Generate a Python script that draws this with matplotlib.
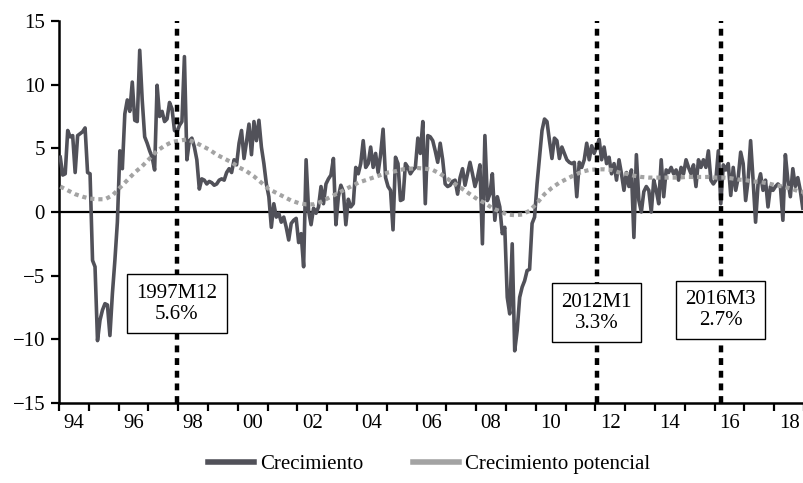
import numpy as np
import matplotlib
matplotlib.use("Agg")
from matplotlib import pyplot as plt
from matplotlib.lines import Line2D

plt.rcParams["font.family"] = ["Liberation Serif", "DejaVu Serif"]

# monthly growth, 1994M1 .. 2018M12
growth = [
    4.3, 2.9, 3.0, 6.4, 5.9, 6.0, 3.1, 6.0, 6.15, 6.3, 6.6, 3.1,
    3.0, -3.8, -4.3, -10.1, -8.5, -7.7, -7.2, -7.3, -9.7, -6.4, -3.8, -0.8,
    4.8, 3.4, 7.7, 8.8, 7.9, 10.2, 7.2, 7.1, 12.7, 8.8, 5.9, 5.4,
    4.8, 4.3, 3.3, 9.95, 7.5, 7.9, 7.1, 7.3, 8.6, 8.1, 6.4, 6.3,
    6.8, 7.1, 12.2, 4.1, 5.6, 5.8, 5.1, 4.1, 1.8, 2.6, 2.5, 2.2,
    2.4, 2.3, 2.1, 2.2, 2.5, 2.6, 2.5, 3.1, 3.4, 3.1, 4.1, 3.7,
    5.4, 6.4, 4.2, 5.5, 6.9, 4.5, 7.1, 5.6, 7.2, 5.1, 3.8, 2.2,
    1.2, -1.2, 0.65, -0.4, -0.1, -0.8, -0.4, -1.2, -2.2, -0.9, -0.65, -0.5,
    -2.4, -1.7, -4.3, 4.1, 0.1, -1.0, 0.3, -0.1, 0.4, 2.0, 0.65, 2.2,
    2.6, 2.9, 4.2, -1.0, 1.2, 2.1, 1.6, -1.0, 1.0, 0.4, 0.65, 3.5,
    3.0, 3.8, 5.6, 3.5, 3.8, 5.1, 3.5, 4.6, 3.1, 4.5, 6.5, 2.7,
    2.0, 1.7, -1.4, 4.3, 3.8, 0.9, 1.0, 3.8, 3.5, 3.0, 3.3, 3.5,
    5.8, 4.6, 7.1, 0.65, 6.0, 5.9, 5.6, 4.8, 3.9, 5.4, 4.1, 2.2,
    2.0, 2.1, 2.4, 2.5, 1.4, 2.7, 3.4, 2.1, 3.0, 3.9, 3.0, 2.0,
    2.7, 3.7, -2.5, 6.0, 0.9, 1.4, 3.0, -0.65, 1.2, 0.4, -1.7, -1.2,
    -6.7, -8.0, -2.5, -10.9, -9.3, -6.7, -5.9, -5.4, -4.6, -4.5, -0.9, -0.4,
    2.2, 4.3, 6.4, 7.3, 7.1, 5.6, 4.2, 5.8, 5.6, 4.2, 5.1, 4.6,
    4.1, 3.9, 3.8, 3.9, 1.2, 3.9, 3.5, 4.1, 5.4, 4.1, 5.2, 4.6,
    5.1, 5.7, 4.1, 5.1, 3.8, 4.3, 3.0, 3.8, 2.5, 4.1, 3.0, 1.7,
    3.1, 2.0, 3.3, -2.0, 4.5, 0.9, 0.0, 1.6, 2.0, 1.7, 0.0, 2.5,
    1.7, 0.65, 4.1, 1.2, 3.3, 3.1, 3.5, 3.0, 3.3, 2.5, 3.5, 3.0,
    4.1, 3.5, 3.0, 3.7, 2.0, 4.1, 3.5, 4.1, 3.5, 4.8, 2.5, 2.2,
    2.5, 4.8, 0.65, 3.7, 3.3, 3.8, 1.3, 3.5, 1.7, 2.7, 4.7, 3.8,
    0.9, 2.5, 5.6, 2.5, -0.8, 2.2, 3.0, 1.7, 2.5, 0.4, 2.0, 1.7,
    2.0, 2.2, 2.0, -0.65, 4.5, 2.5, 1.2, 3.4, 2.0, 2.7, 1.7, 0.3,
]

# potential growth, quarterly from 1994Q1
potential = [
    2.0, 1.7, 1.4, 1.2, 1.05, 1.0, 1.0, 1.3, 1.9, 2.5, 3.1, 3.6,
    4.2, 4.8, 5.2, 5.5, 5.6, 5.7, 5.5, 5.2, 4.9, 4.5, 4.2, 3.9,
    3.5, 3.2, 2.8, 2.3, 1.8, 1.5, 1.2, 0.9, 0.7, 0.6, 0.6, 0.8,
    1.1, 1.4, 1.7, 2.0, 2.3, 2.5, 2.7, 2.9, 3.1, 3.2, 3.35, 3.4,
    3.45, 3.4, 3.3, 3.0, 2.6, 2.2, 1.8, 1.4, 1.0, 0.7, 0.3, 0.05,
    -0.2, -0.25, -0.2, 0.1, 0.7, 1.4, 1.9, 2.3, 2.6, 2.9, 3.15, 3.3,
    3.35, 3.35, 3.3, 3.1, 3.0, 2.85, 2.75, 2.7, 2.7, 2.7, 2.7, 2.7,
    2.75, 2.75, 2.75, 2.75, 2.7, 2.7, 2.65, 2.55, 2.5, 2.4, 2.35, 2.25,
    2.1, 2.0, 1.85, 1.65, 1.55,
]

events = ["1997M12", "2012M1", "2016M3"]
event_vals = [5.6, 3.3, 2.7]
year_labels = ["94", "96", "98", "00", "02", "04", "06", "08", "10", "12", "14", "16", "18"]


def month_pos(label):
    y, m = label.split("M")
    return int(y) + (int(m) - 0.5) / 12


x_growth = 1994 + (np.arange(len(growth)) + 0.5) / 12
x_pot = 1994 + 1 / 24 + 0.25 * np.arange(len(potential))

fig = plt.figure(figsize=(8.04, 4.83), dpi=100)
ax = fig.add_axes([0.0734, 0.1656, 0.9266, 0.791])

ax.plot(x_growth, growth, color="#515159", lw=2.6, zorder=3)
ax.plot(x_pot, potential, color="#a3a3a3", lw=3.0, linestyle=(0, (1.0, 0.95)), zorder=4)
ax.axhline(0, color="black", lw=1.6, zorder=2)

box_y = [-7.2, -7.9, -7.7]
for lab, val, by in zip(events, event_vals, box_y):
    xp = month_pos(lab)
    ax.axvline(xp, color="black", lw=3.2, linestyle=(0, (1.55, 1.3)), zorder=5)
    ax.text(xp, by, "%s\n%.1f%%" % (lab, val), ha="center", va="center",
            fontsize=15, linespacing=1.15, zorder=6,
            bbox=dict(boxstyle="square,pad=0.45", fc="white", ec="black", lw=1.0))

ax.set_xlim(1994, 2019)
ax.set_ylim(-15, 15)
ax.set_yticks(range(-15, 16, 5))
ax.set_yticklabels([str(v).replace("-", "\u2212") for v in range(-15, 16, 5)])
ax.set_xticks(range(1994, 2020))
ax.set_xticklabels([])
ax.set_xticks([1994.5 + 2 * i for i in range(len(year_labels))], minor=True)
ax.set_xticklabels(year_labels, minor=True)
ax.tick_params(axis="x", which="major", length=6, width=1.6, direction="out")
ax.tick_params(axis="x", which="minor", length=0, pad=8, labelsize=15)
ax.tick_params(axis="y", length=6, width=1.6, direction="out", labelsize=15, pad=4)

for s in ["top", "right"]:
    ax.spines[s].set_visible(False)
for s in ["left", "bottom"]:
    ax.spines[s].set_linewidth(1.8)

handles = [Line2D([], [], color="#515159", lw=4),
           Line2D([], [], color="#a3a3a3", lw=4)]
fig.legend(handles, ["Crecimiento", "Crecimiento potencial"], loc="center",
           bbox_to_anchor=(0.534, 0.038), ncol=2, frameon=False, fontsize=15,
           handlelength=2.2, handletextpad=0.3, columnspacing=2.4)

plt.savefig("out.png", dpi=100)
